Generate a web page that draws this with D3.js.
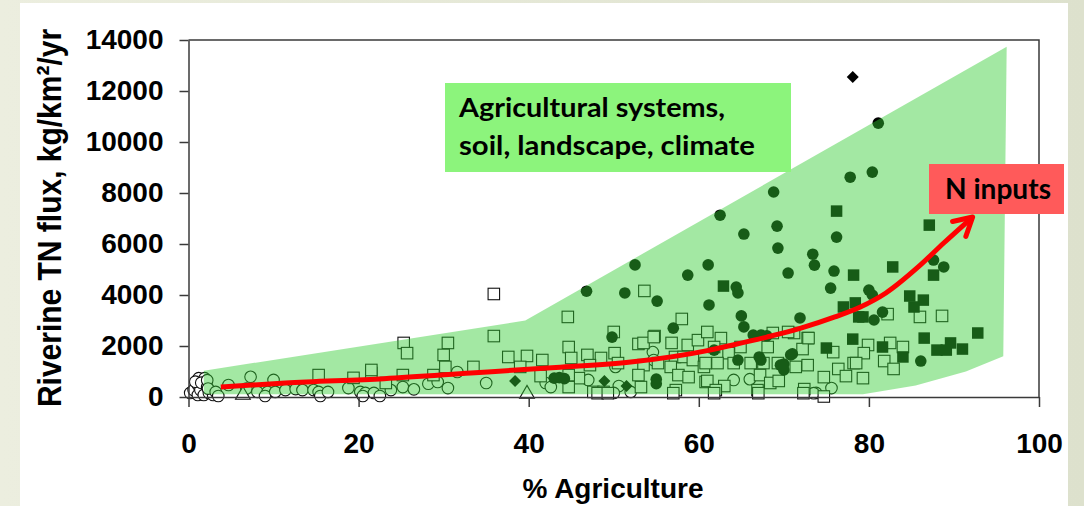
<!DOCTYPE html>
<html><head><meta charset="utf-8">
<script src="https://cdn.jsdelivr.net/npm/d3@7"></script>
<style>html,body{margin:0;padding:0;overflow:hidden;background:#e3e6d3;}</style>
</head><body>
<svg id="chart" width="1084" height="506"></svg>
<script>
// ---------- data ----------
const xTicks = [0, 20, 40, 60, 80, 100];
const yTicks = [0, 2000, 4000, 6000, 8000, 10000, 12000, 14000];
const xTitle = "% Agriculture";
const yTitle = "Riverine TN flux, kg/km²/yr";
const boxLines = ["Agricultural systems,", "soil, landscape, climate"];
const arrowLabel = "N inputs";

// open circles [% agriculture, TN flux]
const openCircles = [
[0.2,160],[0.6,270],[1.1,80],[1.1,470],[1.2,740],[1.4,270],[1.8,80],[1.9,740],[0.8,600],[1.5,560],
[2.2,390],[2.4,160],[2.9,80],[2.2,660],[2.3,330],[3.2,200],[3.5,40],[4.7,470],[6.8,330],[7.3,790],
[8.1,200],[9.3,200],[9.0,40],[10,670],[10.2,200],[11.4,270],[12.6,310],[13.4,270],[14.7,270],[15.3,200],
[15.5,40],[16.4,200],[18.8,350],[20.2,200],[20.8,160],[21.8,160],[20.5,40],[22.5,40],[23.8,270],[25.2,390],
[26.5,300],[28.2,520],[29.3,590],[30.5,350],[31.6,980],[35,550],[42,550],[42.6,390],[47,670],[50.6,430],
[52,200],[50,160],[50.2,1180],[54.6,1760],[54.7,1450],[64.1,670],[73.8,160],[75.6,350],[66,700],[73.5,150]
];
// open squares
const openSquares = [
[35.9,4040],[25.3,2120],[25.7,1720],[25.2,860],[23.2,550],[15.3,860],[19.4,750],[21.5,940],[21.5,1060],[30.5,2120],
[30,1650],[30.2,1180],[28.8,860],[33.5,1180],[35.9,2390],[37.6,1570],[39.8,1610],[39,1180],[41.6,1450],[41.4,820],
[44.6,3140],[53.6,4160],[50,2550],[58,3060],[54.8,2390],[52.9,2080],[44.7,1960],[45,1530],[46.9,1650],[48.5,1530],
[50.1,1720],[47.2,1250],[50.5,1330],[53.5,1250],[55.2,1330],[56.8,2120],[57.2,1570],[58.7,2040],[59.9,2230],[61,2550],
[58.2,1570],[59.3,1450],[60.6,1180],[56.7,1180],[45.9,740],[44.7,390],[47.6,200],[48.8,200],[53.2,390],[52.9,860],
[57.3,270],[57.6,860],[58.8,780],[60.8,590],[44.7,860],[53.5,2120],[54.7,2350],
[62.6,2310],[68.7,2510],[71.2,2510],[72.8,2310],[61.8,1960],[64.9,1960],[68.1,1960],[63.5,1720],[72.2,1880],[75.8,1760],
[60.8,1330],[62.2,1330],[64.1,1330],[66.1,1330],[67.6,1330],[69.3,1330],[71.4,1180],[72.8,1250],[67.2,860],[68.4,550],
[69.4,630],[61,630],[63,430],[62,270],[66.9,270],[72.4,310],[74.7,780],[76.4,1100],[77.3,820],[78.2,1330],
[74.7,20],[70.5,2550],[72.9,2310],[82.2,3250],[86,3140],[88.6,3180],[79.9,2040],[79.4,1720],[82.5,2120],[84,1960],
[81.8,1410],[82.9,1100],[79.3,740],[78.5,1330],[48.1,150],[49.3,150],[57,150],[61.8,150],[67,150],[72.3,150]
];
// filled circles
const filledCircles = [
[68.8,8040],[62.5,7130],[65.3,6390],[69.2,6700],[69.3,5840],[73.4,5600],[73.6,5170],[76.2,6270],[75.9,4940],[77.8,8620],
[80.4,8820],[81.1,10740],[52.5,5180],[61.1,5180],[58.7,4780],[70.5,4860],[46.8,4150],[51.3,4080],[55.1,3760],[61.2,3610],
[57.0,2700],[49.8,2350],[64.4,4310],[64.6,4080],[75.5,4270],[65,3180],[65.3,2750],[71.9,3100],[66.4,2430],[67.3,2430],
[68.0,2400],[71,1690],[70,1290],[70,1060],[87.6,5370],[88.8,5100],[80,4190],[80.4,4000],[80.6,3020],[81.6,3330],
[86.1,1410],[43,740],[43.6,760],[44.2,720],[55,700],[55,520],[61.8,1840],[64.6,1450],[67.3,1450],[67.1,1570],
[70.8,1650],[69.6,1250]
];
// filled squares
const filledSquares = [
[76.2,7290],[78.2,4780],[62.9,4350],[77,3530],[78.4,3690],[78.8,3140],[78.1,2270],[75,1920],[87.1,6740],[82.8,5100],
[87.6,4780],[84.8,3960],[86.4,3800],[85.3,3530],[79.3,3140],[86.5,2310],[92.8,2510],[88,1840],[89.1,1840],[89.6,2120],
[91,1880],[81.6,1960],[84,1570]
];
// filled diamonds
const filledDiamonds = [[78.1,12550],[38.4,630],[48.9,630],[51.5,430]];
// open triangles
const openTriangles = [[6.4,80],[39.8,120]];

// shaded envelope (polygon) and trend arrow
const envelope = [[1.8,1030],[39.6,3000],[96.2,13740],[95.8,1600],[91.4,1000],[85.5,450],[79.3,110],[1.8,110]];
const trend = [[3.8,390],[11.4,550],[23,720],[33.2,940],[43.2,1160],[52,1370],[61,1820],[64,2040],[68,2350],[72,2700],
[76,3140],[79,3530],[82,4080],[85.8,5100],[88.8,6040],[92.2,7060]];

// ---------- drawing ----------
const svg = d3.select("#chart");
const defs = svg.append("defs");
const bg = defs.append("linearGradient").attr("id","bg").attr("x1","0").attr("x2","1").attr("y1","0").attr("y2","0");
bg.append("stop").attr("offset","0").attr("stop-color","#eceedf");
bg.append("stop").attr("offset","1").attr("stop-color","#dde1cd");
svg.append("rect").attr("width",1084).attr("height",506).attr("fill","url(#bg)");
svg.append("rect").attr("x",20).attr("y",3).attr("width",1048).attr("height",503).attr("fill","#ffffff");

const x = d3.scaleLinear().domain([0,100]).range([188.5,1039]);
const y = d3.scaleLinear().domain([0,14000]).range([397,40]);

const axisColor = "#3a3a3a";
const tickFont = "'Liberation Sans', Arial, sans-serif";

// markers
const gM = svg.append("g");
const R = 5.8, S = 11.5;
gM.selectAll(".oc").data(openCircles).join("circle")
  .attr("cx",d=>x(d[0])).attr("cy",d=>y(d[1])).attr("r",R)
  .attr("fill","#fff").attr("stroke","#111").attr("stroke-width",1.1);
gM.selectAll(".os").data(openSquares).join("rect")
  .attr("x",d=>x(d[0])-S/2).attr("y",d=>y(d[1])-S/2).attr("width",S).attr("height",S)
  .attr("fill","#fff").attr("stroke","#111").attr("stroke-width",1.1);
gM.selectAll(".fc").data(filledCircles).join("circle")
  .attr("cx",d=>x(d[0])).attr("cy",d=>y(d[1])).attr("r",R).attr("fill","#000");
gM.selectAll(".fs").data(filledSquares).join("rect")
  .attr("x",d=>x(d[0])-S/2).attr("y",d=>y(d[1])-S/2).attr("width",S).attr("height",S).attr("fill","#000");
const diamond = d3.symbol().type(d3.symbolSquare).size(72);
gM.selectAll(".fd").data(filledDiamonds).join("path")
  .attr("d",diamond).attr("transform",d=>`translate(${x(d[0])},${y(d[1])}) rotate(45)`).attr("fill","#000");
const tri = d3.symbol().type(d3.symbolTriangle).size(95);
gM.selectAll(".ot").data(openTriangles).join("path")
  .attr("d",tri).attr("transform",d=>`translate(${x(d[0])},${y(d[1])})`)
  .attr("fill","#fff").attr("stroke","#111").attr("stroke-width",1.1);

// translucent envelope over the points
svg.append("path").datum(envelope)
  .attr("d",d3.line().x(d=>x(d[0])).y(d=>y(d[1])))
  .attr("fill","rgb(52,205,52)").attr("fill-opacity",0.45);

// axes
const gy = svg.append("g").attr("transform",`translate(${x(0)},0)`)
  .call(d3.axisLeft(y).tickValues(yTicks).tickSize(9).tickSizeOuter(0).tickPadding(16).tickFormat(d3.format("d")));
const gx = svg.append("g").attr("transform",`translate(0,${y(0)})`)
  .call(d3.axisBottom(x).tickValues(xTicks).tickSize(10).tickSizeOuter(0).tickPadding(26).tickFormat(d3.format("d")));
[gx,gy].forEach(g=>{
  g.selectAll("path,line").attr("stroke",axisColor).attr("stroke-width",1.5);
  g.selectAll("text").attr("fill","#000").style("font-family",tickFont).style("font-weight","bold").style("font-size","28px");
});
// frame top/right
svg.append("path")
  .attr("d",`M${x(0)},${y(14000)}H${x(100)}V${y(0)}`)
  .attr("fill","none").attr("stroke",axisColor).attr("stroke-width",1.5);

// trend arrow
const mk = defs.append("marker").attr("id","arrow").attr("markerUnits","userSpaceOnUse")
  .attr("viewBox","-24 -14 28 28").attr("refX",0).attr("refY",0)
  .attr("markerWidth",28).attr("markerHeight",28).attr("orient","auto");
mk.append("path").attr("d","M-18,-10L0,0L-18,10").attr("fill","none").attr("stroke","#ff0000")
  .attr("stroke-width",5).attr("stroke-linecap","round").attr("stroke-linejoin","round");
svg.append("path").datum(trend)
  .attr("d",d3.line().x(d=>x(d[0])).y(d=>y(d[1])).curve(d3.curveMonotoneX))
  .attr("fill","none").attr("stroke","#ff0000").attr("stroke-width",5)
  .attr("marker-end","url(#arrow)");

// titles
svg.append("text").attr("x",613).attr("y",498).attr("text-anchor","middle")
  .style("font-family",tickFont).style("font-weight","bold").style("font-size","28px").text(xTitle);
svg.append("text").attr("transform","translate(61,218) rotate(-90) scale(1,1.1)").attr("text-anchor","middle")
  .style("font-family",tickFont).style("font-weight","bold").style("font-size","30px").text(yTitle);

// annotation boxes
const boxFont = "Lato, 'Open Sans', sans-serif";
const boxWidths = [266, 296];
svg.append("rect").attr("x",445).attr("y",83).attr("width",346).attr("height",89).attr("fill","#8cf47c");
boxLines.forEach((t,i)=>{
  svg.append("text").attr("x",459).attr("y",117+i*38)
    .attr("textLength",boxWidths[i]).attr("lengthAdjust","spacingAndGlyphs")
    .style("font-family",boxFont).style("font-weight","bold").style("font-size","26px").attr("fill","#000").text(t);
});
svg.append("rect").attr("x",929).attr("y",164).attr("width",135).attr("height",50).attr("fill","#ff5a5a");
svg.append("text").attr("x",945).attr("y",199)
  .attr("textLength",106).attr("lengthAdjust","spacingAndGlyphs")
  .style("font-family",boxFont).style("font-weight","bold").style("font-size","28px").attr("fill","#000").text(arrowLabel);
</script>
</body></html>
